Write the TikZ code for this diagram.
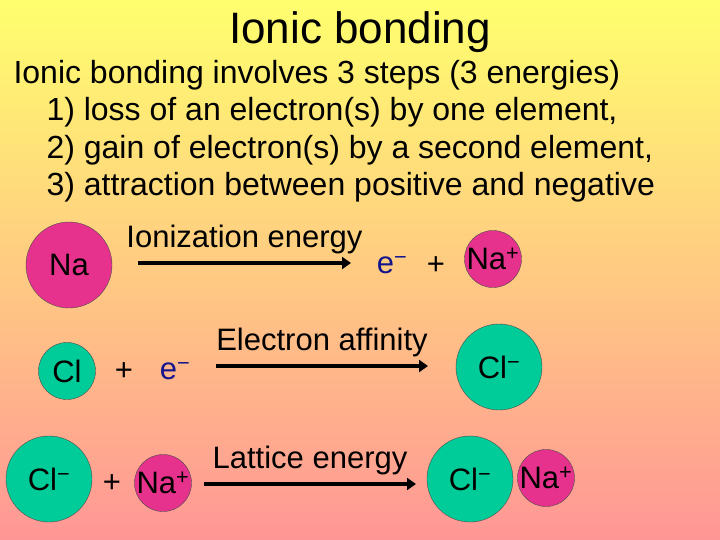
\documentclass[tikz,border=0pt]{standalone}
\usepackage{fontspec}
\setmainfont{Liberation Sans}
\usetikzlibrary{arrows.meta, positioning}

\definecolor{napink}{RGB}{230,50,140}
\definecolor{clgreen}{RGB}{0,204,153}
\definecolor{topyellow}{RGB}{255,255,110}
\definecolor{botpink}{RGB}{255,150,150}
\definecolor{eblue}{RGB}{20,20,140}

\begin{document}
\begin{tikzpicture}[
    x=1pt, y=-1pt,
    atom/.style={draw=black!70, circle, inner sep=0pt, font=\fontsize{31}{34}\selectfont},
    big/.style={atom, minimum size=86pt},
    small/.style={atom, minimum size=57pt},
    sodium/.style={fill=napink},
    chlorine/.style={fill=clgreen},
    sym/.style={font=\fontsize{31}{34}\selectfont, inner sep=0pt},
    electron/.style={sym, text=eblue},
    label/.style={font=\fontsize{31}{34}\selectfont, inner sep=1pt},
    react/.style={line width=4pt, -{Triangle[length=9pt,width=12pt]}},
]
\shade[top color=topyellow, bottom color=botpink] (0,0) rectangle (720,540);
\useasboundingbox (0,0) rectangle (720,540);

\node[font=\fontsize{44}{48}\selectfont] (title) at (360,32) {Ionic bonding};
\node[anchor=west, font=\fontsize{32}{37.5}\selectfont, align=left] (intro) at (10,131)
  {Ionic bonding involves 3 steps (3 energies)\\
   \hspace*{33pt}1) loss of an electron(s) by one element,\\
   \hspace*{33pt}2) gain of electron(s) by a second element,\\
   \hspace*{33pt}3) attraction between positive and negative};

% ionization
\node[big, sodium] (na1) at (69,265) {Na};
\coordinate (ia) at (138,263);
\coordinate (ib) at (351,263);
\node[electron] (e1) at (392,265) {e\textsuperscript{−}};
\node[sym] (p1) at (436,266) {+};
\node[small, sodium] (na2) at (493,259) {Na\textsuperscript{+}};
\draw[react] (ia) -- (ib) node[label, midway, above=6pt] (ion) {Ionization energy};

% electron affinity
\node[small, chlorine] (cl1) at (67,371) {Cl};
\node[sym] (p2) at (124,372) {+};
\node[electron] (e2) at (175,371) {e\textsuperscript{−}};
\coordinate (ea) at (216,366);
\coordinate (eb) at (428,366);
\node[big, chlorine] (cl2) at (499,367) {Cl\textsuperscript{−}};
\draw[react] (ea) -- (eb) node[label, midway, above=6pt] (aff) {Electron affinity};

% lattice
\node[big, chlorine] (cl3) at (49,479) {Cl\textsuperscript{−}};
\node[sym] (p3) at (112,484) {+};
\node[small, sodium] (na3) at (163,483) {Na\textsuperscript{+}};
\coordinate (la) at (204,484);
\coordinate (lb) at (416,484);
\node[big, chlorine] (cl4) at (470,479) {Cl\textsuperscript{−}};
\node[small, sodium] (na4) at (546,478) {Na\textsuperscript{+}};
\draw[react] (la) -- (lb) node[label, midway, above=6pt] (lat) {Lattice energy};
\end{tikzpicture}
\end{document}
